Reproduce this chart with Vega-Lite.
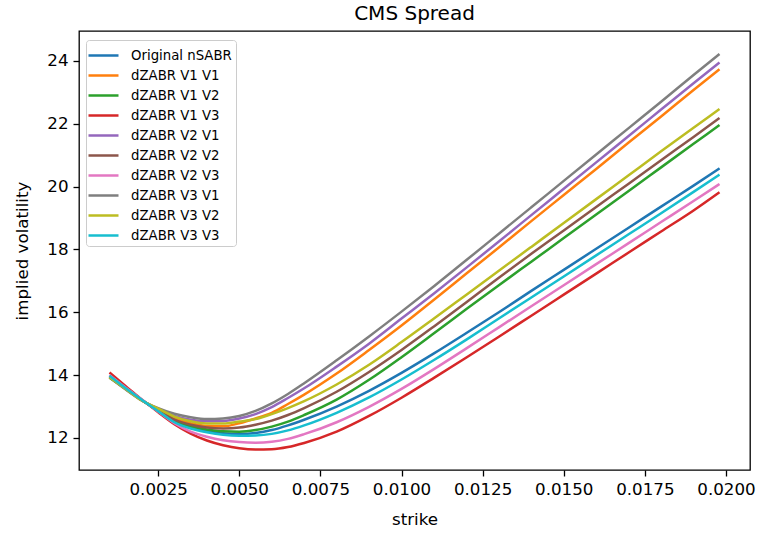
{
  "$schema": "https://vega.github.io/schema/vega-lite/v6.json",
  "width": 671,
  "height": 439,
  "autosize": "none",
  "padding": {"left": 79, "top": 31, "right": 12, "bottom": 66},
  "background": "white",
  "title": {"text": "CMS Spread", "font": "DejaVu Sans", "fontSize": 20, "fontWeight": "normal", "color": "#000000", "offset": 7, "anchor": "middle"},
  "config": {
    "view": {"stroke": "#000000", "strokeWidth": 1.3},
    "axis": {
      "domain": false, "grid": false, "ticks": true, "tickColor": "#000000", "tickSize": 6, "tickWidth": 1.3,
      "labelFont": "DejaVu Sans", "labelFontSize": 16.7, "labelColor": "#000000", "labelPadding": 5,
      "titleFont": "DejaVu Sans", "titleFontSize": 16.7, "titleFontWeight": "normal", "titleColor": "#000000"
    }
  },
  "data": {"values": [
    {"strike": 0.001, "Original nSABR": 13.97, "dZABR V1 V1": 13.95, "dZABR V1 V2": 13.92, "dZABR V1 V3": 14.08, "dZABR V2 V1": 13.95, "dZABR V2 V2": 13.94, "dZABR V2 V3": 14.0, "dZABR V3 V1": 13.93, "dZABR V3 V2": 13.93, "dZABR V3 V3": 13.98},
    {"strike": 0.0015, "Original nSABR": 13.58, "dZABR V1 V1": 13.57, "dZABR V1 V2": 13.56, "dZABR V1 V3": 13.65, "dZABR V2 V1": 13.56, "dZABR V2 V2": 13.57, "dZABR V2 V3": 13.6, "dZABR V3 V1": 13.54, "dZABR V3 V2": 13.56, "dZABR V3 V3": 13.58},
    {"strike": 0.002, "Original nSABR": 13.21, "dZABR V1 V1": 13.2, "dZABR V1 V2": 13.2, "dZABR V1 V3": 13.22, "dZABR V2 V1": 13.19, "dZABR V2 V2": 13.2, "dZABR V2 V3": 13.22, "dZABR V3 V1": 13.19, "dZABR V3 V2": 13.19, "dZABR V3 V3": 13.21},
    {"strike": 0.0025, "Original nSABR": 12.85, "dZABR V1 V1": 12.9, "dZABR V1 V2": 12.86, "dZABR V1 V3": 12.82, "dZABR V2 V1": 12.92, "dZABR V2 V2": 12.88, "dZABR V2 V3": 12.84, "dZABR V3 V1": 12.95, "dZABR V3 V2": 12.93, "dZABR V3 V3": 12.85},
    {"strike": 0.003, "Original nSABR": 12.52, "dZABR V1 V1": 12.62, "dZABR V1 V2": 12.55, "dZABR V1 V3": 12.44, "dZABR V2 V1": 12.7, "dZABR V2 V2": 12.58, "dZABR V2 V3": 12.47, "dZABR V3 V1": 12.77, "dZABR V3 V2": 12.68, "dZABR V3 V3": 12.5},
    {"strike": 0.0035, "Original nSABR": 12.33, "dZABR V1 V1": 12.47, "dZABR V1 V2": 12.37, "dZABR V1 V3": 12.14, "dZABR V2 V1": 12.58, "dZABR V2 V2": 12.42, "dZABR V2 V3": 12.2, "dZABR V3 V1": 12.66, "dZABR V3 V2": 12.53, "dZABR V3 V3": 12.3},
    {"strike": 0.004, "Original nSABR": 12.22, "dZABR V1 V1": 12.38, "dZABR V1 V2": 12.27, "dZABR V1 V3": 11.92, "dZABR V2 V1": 12.53, "dZABR V2 V2": 12.33, "dZABR V2 V3": 12.04, "dZABR V3 V1": 12.6, "dZABR V3 V2": 12.46, "dZABR V3 V3": 12.18},
    {"strike": 0.0045, "Original nSABR": 12.15, "dZABR V1 V1": 12.37, "dZABR V1 V2": 12.21, "dZABR V1 V3": 11.77, "dZABR V2 V1": 12.54, "dZABR V2 V2": 12.3, "dZABR V2 V3": 11.93, "dZABR V3 V1": 12.62, "dZABR V3 V2": 12.46, "dZABR V3 V3": 12.1},
    {"strike": 0.005, "Original nSABR": 12.13, "dZABR V1 V1": 12.47, "dZABR V1 V2": 12.2, "dZABR V1 V3": 11.67, "dZABR V2 V1": 12.62, "dZABR V2 V2": 12.33, "dZABR V2 V3": 11.87, "dZABR V3 V1": 12.7, "dZABR V3 V2": 12.52, "dZABR V3 V3": 12.07},
    {"strike": 0.0055, "Original nSABR": 12.16, "dZABR V1 V1": 12.62, "dZABR V1 V2": 12.25, "dZABR V1 V3": 11.63, "dZABR V2 V1": 12.76, "dZABR V2 V2": 12.42, "dZABR V2 V3": 11.85, "dZABR V3 V1": 12.86, "dZABR V3 V2": 12.6, "dZABR V3 V3": 12.08},
    {"strike": 0.006, "Original nSABR": 12.25, "dZABR V1 V1": 12.8, "dZABR V1 V2": 12.36, "dZABR V1 V3": 11.64, "dZABR V2 V1": 12.98, "dZABR V2 V2": 12.55, "dZABR V2 V3": 11.88, "dZABR V3 V1": 13.1, "dZABR V3 V2": 12.76, "dZABR V3 V3": 12.13},
    {"strike": 0.0065, "Original nSABR": 12.4, "dZABR V1 V1": 13.08, "dZABR V1 V2": 12.52, "dZABR V1 V3": 11.71, "dZABR V2 V1": 13.27, "dZABR V2 V2": 12.73, "dZABR V2 V3": 11.97, "dZABR V3 V1": 13.4, "dZABR V3 V2": 12.95, "dZABR V3 V3": 12.24},
    {"strike": 0.007, "Original nSABR": 12.58, "dZABR V1 V1": 13.38, "dZABR V1 V2": 12.73, "dZABR V1 V3": 11.84, "dZABR V2 V1": 13.58, "dZABR V2 V2": 12.95, "dZABR V2 V3": 12.12, "dZABR V3 V1": 13.74, "dZABR V3 V2": 13.17, "dZABR V3 V3": 12.4},
    {"strike": 0.008, "Original nSABR": 13.0, "dZABR V1 V1": 14.05, "dZABR V1 V2": 13.22, "dZABR V1 V3": 12.2, "dZABR V2 V1": 14.27, "dZABR V2 V2": 13.47, "dZABR V2 V3": 12.5, "dZABR V3 V1": 14.47, "dZABR V3 V2": 13.7, "dZABR V3 V3": 12.8},
    {"strike": 0.009, "Original nSABR": 13.5, "dZABR V1 V1": 14.8, "dZABR V1 V2": 13.85, "dZABR V1 V3": 12.7, "dZABR V2 V1": 15.0, "dZABR V2 V2": 14.1, "dZABR V2 V3": 12.99, "dZABR V3 V1": 15.23, "dZABR V3 V2": 14.33, "dZABR V3 V3": 13.29},
    {"strike": 0.01, "Original nSABR": 14.07, "dZABR V1 V1": 15.58, "dZABR V1 V2": 14.57, "dZABR V1 V3": 13.28, "dZABR V2 V1": 15.8, "dZABR V2 V2": 14.8, "dZABR V2 V3": 13.56, "dZABR V3 V1": 16.02, "dZABR V3 V2": 15.05, "dZABR V3 V3": 13.86},
    {"strike": 0.011, "Original nSABR": 14.69, "dZABR V1 V1": 16.4, "dZABR V1 V2": 15.33, "dZABR V1 V3": 13.91, "dZABR V2 V1": 16.6, "dZABR V2 V2": 15.55, "dZABR V2 V3": 14.19, "dZABR V3 V1": 16.83, "dZABR V3 V2": 15.8, "dZABR V3 V3": 14.48},
    {"strike": 0.012, "Original nSABR": 15.34, "dZABR V1 V1": 17.23, "dZABR V1 V2": 16.1, "dZABR V1 V3": 14.56, "dZABR V2 V1": 17.42, "dZABR V2 V2": 16.32, "dZABR V2 V3": 14.85, "dZABR V3 V1": 17.66, "dZABR V3 V2": 16.56, "dZABR V3 V3": 15.13},
    {"strike": 0.013, "Original nSABR": 16.0, "dZABR V1 V1": 18.06, "dZABR V1 V2": 16.86, "dZABR V1 V3": 15.22, "dZABR V2 V1": 18.25, "dZABR V2 V2": 17.1, "dZABR V2 V3": 15.52, "dZABR V3 V1": 18.5, "dZABR V3 V2": 17.32, "dZABR V3 V3": 15.8},
    {"strike": 0.014, "Original nSABR": 16.68, "dZABR V1 V1": 18.9, "dZABR V1 V2": 17.61, "dZABR V1 V3": 15.89, "dZABR V2 V1": 19.09, "dZABR V2 V2": 17.86, "dZABR V2 V3": 16.19, "dZABR V3 V1": 19.34, "dZABR V3 V2": 18.08, "dZABR V3 V3": 16.47},
    {"strike": 0.015, "Original nSABR": 17.35, "dZABR V1 V1": 19.73, "dZABR V1 V2": 18.36, "dZABR V1 V3": 16.56, "dZABR V2 V1": 19.93, "dZABR V2 V2": 18.6, "dZABR V2 V3": 16.86, "dZABR V3 V1": 20.18, "dZABR V3 V2": 18.84, "dZABR V3 V3": 17.14},
    {"strike": 0.016, "Original nSABR": 18.02, "dZABR V1 V1": 20.56, "dZABR V1 V2": 19.11, "dZABR V1 V3": 17.23, "dZABR V2 V1": 20.77, "dZABR V2 V2": 19.35, "dZABR V2 V3": 17.53, "dZABR V3 V1": 21.02, "dZABR V3 V2": 19.6, "dZABR V3 V3": 17.81},
    {"strike": 0.017, "Original nSABR": 18.69, "dZABR V1 V1": 21.4, "dZABR V1 V2": 19.86, "dZABR V1 V3": 17.9, "dZABR V2 V1": 21.61, "dZABR V2 V2": 20.09, "dZABR V2 V3": 18.2, "dZABR V3 V1": 21.86, "dZABR V3 V2": 20.36, "dZABR V3 V3": 18.48},
    {"strike": 0.018, "Original nSABR": 19.36, "dZABR V1 V1": 22.23, "dZABR V1 V2": 20.61, "dZABR V1 V3": 18.57, "dZABR V2 V1": 22.45, "dZABR V2 V2": 20.84, "dZABR V2 V3": 18.87, "dZABR V3 V1": 22.7, "dZABR V3 V2": 21.12, "dZABR V3 V3": 19.15},
    {"strike": 0.019, "Original nSABR": 20.03, "dZABR V1 V1": 23.07, "dZABR V1 V2": 21.36, "dZABR V1 V3": 19.24, "dZABR V2 V1": 23.29, "dZABR V2 V2": 21.58, "dZABR V2 V3": 19.54, "dZABR V3 V1": 23.55, "dZABR V3 V2": 21.87, "dZABR V3 V3": 19.83},
    {"strike": 0.0198, "Original nSABR": 20.58, "dZABR V1 V1": 23.73, "dZABR V1 V2": 21.96, "dZABR V1 V3": 19.82, "dZABR V2 V1": 23.95, "dZABR V2 V2": 22.18, "dZABR V2 V3": 20.08, "dZABR V3 V1": 24.22, "dZABR V3 V2": 22.47, "dZABR V3 V3": 20.38}
  ]},
  "transform": [
    {"fold": ["Original nSABR", "dZABR V1 V1", "dZABR V1 V2", "dZABR V1 V3", "dZABR V2 V1", "dZABR V2 V2", "dZABR V2 V3", "dZABR V3 V1", "dZABR V3 V2", "dZABR V3 V3"], "as": ["model", "vol"]}
  ],
  "mark": {"type": "line", "strokeWidth": 2.5, "interpolate": "monotone"},
  "encoding": {
    "x": {
      "field": "strike", "type": "quantitative",
      "scale": {"domain": [0.00006, 0.02074], "nice": false, "zero": false},
      "axis": {"values": [0.0025, 0.005, 0.0075, 0.01, 0.0125, 0.015, 0.0175, 0.02], "format": ".4f", "title": "strike", "titlePadding": 14}
    },
    "y": {
      "field": "vol", "type": "quantitative",
      "scale": {"domain": [10.98, 24.95], "nice": false, "zero": false},
      "axis": {"values": [12, 14, 16, 18, 20, 22, 24], "format": "d", "title": "implied volatility", "titlePadding": 15}
    },
    "color": {
      "field": "model", "type": "nominal",
      "scale": {
        "domain": ["Original nSABR", "dZABR V1 V1", "dZABR V1 V2", "dZABR V1 V3", "dZABR V2 V1", "dZABR V2 V2", "dZABR V2 V3", "dZABR V3 V1", "dZABR V3 V2", "dZABR V3 V3"],
        "range": ["#1f77b4", "#ff7f0e", "#2ca02c", "#d62728", "#9467bd", "#8c564b", "#e377c2", "#7f7f7f", "#bcbd22", "#17becf"]
      },
      "legend": {
        "title": null, "orient": "none", "legendX": 7, "legendY": 9, "direction": "vertical",
        "symbolType": "M-1.3,0H1.7", "symbolSize": 400, "symbolStrokeWidth": 2.5,
        "labelFont": "DejaVu Sans", "labelFontSize": 13.3, "labelColor": "#000000", "labelOffset": 18, "labelLimit": 300,
        "rowPadding": 2, "padding": 4, "strokeColor": "#cccccc", "fillColor": "rgba(255,255,255,0.8)", "cornerRadius": 3
      }
    }
  }
}
